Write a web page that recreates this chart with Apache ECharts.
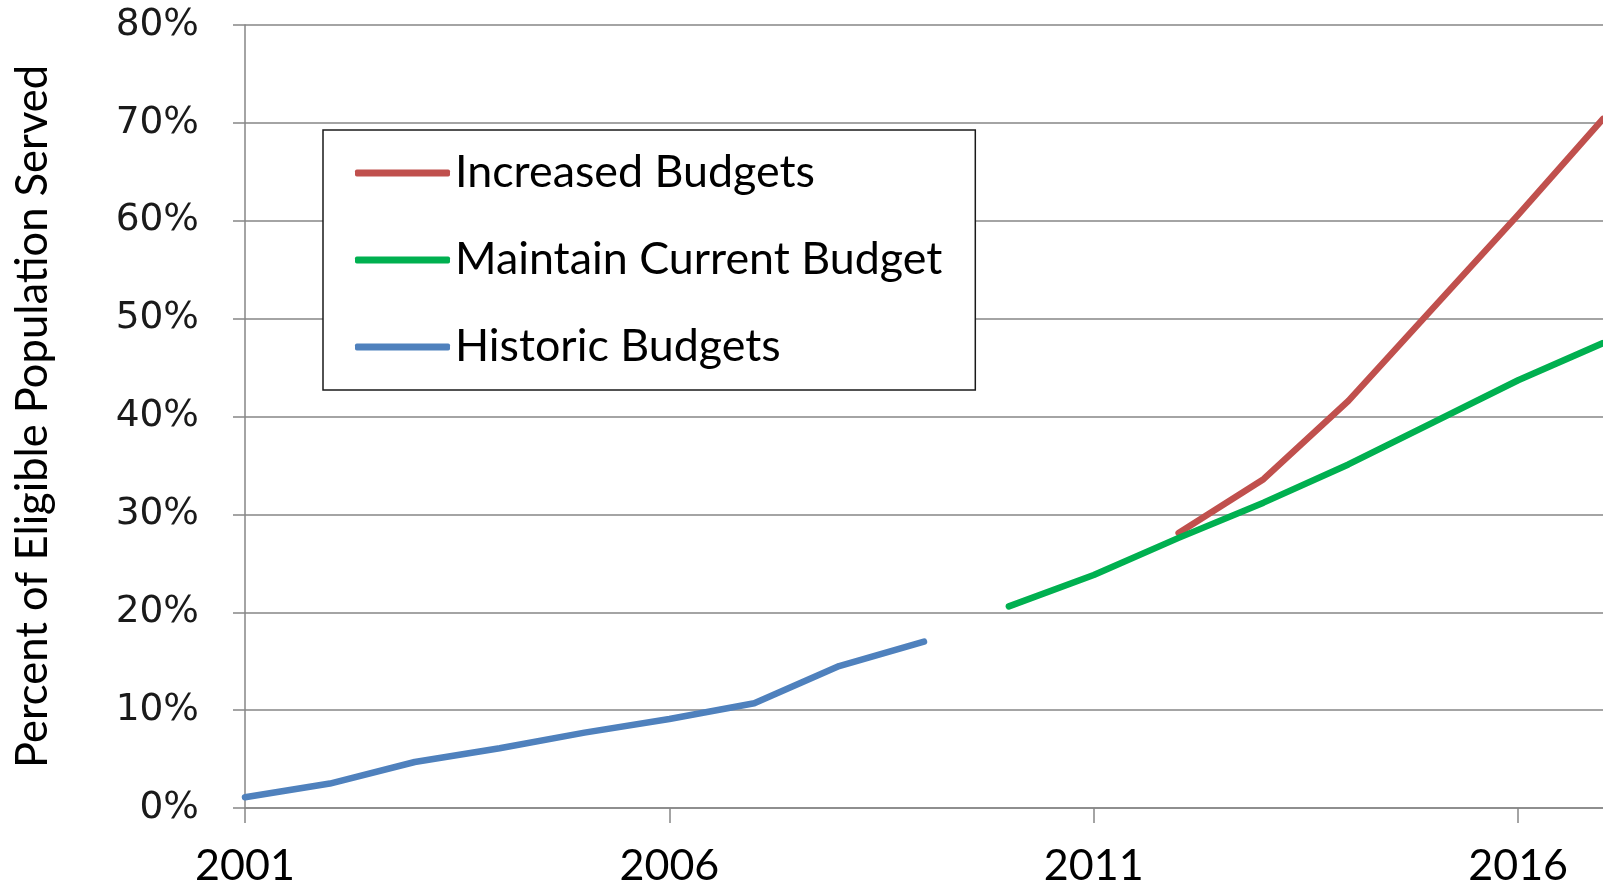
<!DOCTYPE html>
<html>
<head>
<meta charset="utf-8">
<title>Percent of Eligible Population Served</title>
<script src="https://cdn.jsdelivr.net/npm/echarts@6/dist/echarts.min.js"></script>
<style>
  html, body { margin: 0; padding: 0; background: #ffffff; }
  #chart { width: 1603px; height: 889px; }
</style>
</head>
<body>
<div id="chart"></div>
<script>
// Years on the category axis
const years = ['2001','2002','2003','2004','2005','2006','2007','2008','2009',
               '2010','2011','2012','2013','2014','2015','2016','2017'];

// Percent of eligible population served, by budget scenario
const historicBudgets = [1.1, 2.5, 4.7, 6.1, 7.7, 9.1, 10.7, 14.5, 17.0,
                         null, null, null, null, null, null, null, null];
const maintainCurrentBudget = [null, null, null, null, null, null, null, null, null,
                               20.6, 23.8, 27.6, 31.2, 35.1, 39.4, 43.7, 47.5];
const increasedBudgets = [null, null, null, null, null, null, null, null, null,
                          null, null, 28.1, 33.6, 41.6, 51.1, 60.6, 70.4];

const yTicks = { min: 0, max: 80, interval: 10 };

const gridColor = '#868686';
const uiFont = 'Lato, Roboto, sans-serif';

const chart = echarts.init(document.getElementById('chart'), null, { renderer: 'canvas' });

function lineSeries(name, data, color) {
  return {
    name: name,
    type: 'line',
    data: data,
    symbol: 'none',
    showSymbol: false,
    connectNulls: false,
    smooth: false,
    animation: false,
    itemStyle: { color: color },
    lineStyle: { color: color, width: 6.5, cap: 'round', join: 'round' }
  };
}

chart.setOption({
  backgroundColor: '#ffffff',
  animation: false,
  grid: { left: 245, right: -4, top: 25, bottom: 81, containLabel: false },
  legend: {
    data: ['Increased Budgets', 'Maintain Current Budget', 'Historic Budgets'],
    orient: 'vertical',
    left: 323,
    top: 130,
    backgroundColor: '#ffffff',
    borderColor: '#1a1a1a',
    borderWidth: 1.5,
    padding: [18, 33, 18, 32],
    itemGap: 37,
    itemWidth: 95,
    itemHeight: 7,
    itemTextGap: 11,
    icon: 'roundRect',
    textStyle: { fontFamily: uiFont, fontSize: 44.8, color: '#000000', lineHeight: 50 }
  },
  xAxis: {
    type: 'category',
    data: years,
    boundaryGap: false,
    axisLine: { show: true, lineStyle: { color: gridColor, width: 1.5 } },
    axisTick: { show: true, interval: 4, length: 15, alignWithLabel: true,
                lineStyle: { color: gridColor, width: 1.5 } },
    axisLabel: { interval: 4, margin: 37, fontFamily: uiFont, fontSize: 43, color: '#000000' },
    splitLine: { show: false }
  },
  yAxis: {
    type: 'value',
    min: yTicks.min,
    max: yTicks.max,
    interval: yTicks.interval,
    name: 'Percent of Eligible Population Served',
    nameLocation: 'middle',
    nameGap: 190,
    nameRotate: 90,
    nameTextStyle: { fontFamily: uiFont, fontSize: 43.5, color: '#000000' },
    axisLine: { show: true, lineStyle: { color: gridColor, width: 1.5 } },
    axisTick: { show: true, length: 12, lineStyle: { color: gridColor, width: 1.5 } },
    axisLabel: { formatter: '{value}%', margin: 46, fontFamily: 'DejaVu Sans, Verdana, sans-serif',
                 fontSize: 37.5, color: '#1a1a1a' },
    splitLine: { show: true, lineStyle: { color: gridColor, width: 1.5 } }
  },
  series: [
    lineSeries('Increased Budgets', increasedBudgets, '#C0504D'),
    lineSeries('Maintain Current Budget', maintainCurrentBudget, '#00B050'),
    lineSeries('Historic Budgets', historicBudgets, '#4F81BD')
  ]
});
</script>
</body>
</html>
